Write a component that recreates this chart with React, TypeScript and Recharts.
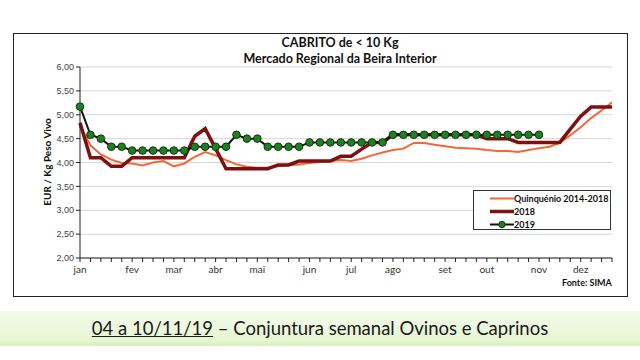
import { LineChart, Line, XAxis, YAxis, CartesianGrid } from "recharts"

const weeks = Array.from({ length: 52 }, (_, i) => String(i + 1))

const monthLabels: Record<number, string> = {
  0: "jan", 5: "fev", 9: "mar", 13: "abr", 17: "mai", 22: "jun",
  26: "jul", 30: "ago", 35: "set", 39: "out", 44: "nov", 48: "dez",
}

const quinquenio = [
  4.76, 4.36, 4.17, 4.06, 3.99, 3.98, 3.94, 4.0, 4.03, 3.92, 3.98, 4.12, 4.22,
  4.15, 4.05, 3.96, 3.91, 3.89, 3.89, 3.92, 3.94, 3.96, 3.99, 4.01, 4.03, 4.05,
  4.03, 4.08, 4.15, 4.21, 4.26, 4.29, 4.41, 4.41, 4.37, 4.34, 4.31, 4.3, 4.29,
  4.26, 4.24, 4.24, 4.22, 4.26, 4.3, 4.33, 4.41, 4.57, 4.74, 4.93, 5.09, 5.26,
]

const y2018 = [
  4.83, 4.1, 4.1, 3.92, 3.92, 4.1, 4.1, 4.1, 4.1, 4.1, 4.1, 4.55, 4.71,
  4.29, 3.87, 3.87, 3.87, 3.87, 3.87, 3.95, 3.95, 4.03, 4.03, 4.03, 4.03, 4.13,
  4.13, 4.28, 4.42, 4.42, 4.58, 4.58, 4.58, 4.58, 4.58, 4.58, 4.58, 4.58, 4.58,
  4.5, 4.5, 4.5, 4.42, 4.42, 4.42, 4.42, 4.42, 4.7, 4.97, 5.16, 5.16, 5.16,
]

const y2019 = [
  5.17, 4.58, 4.5, 4.33, 4.33, 4.25, 4.25, 4.25, 4.25, 4.25, 4.25, 4.33, 4.33,
  4.33, 4.33, 4.58, 4.5, 4.5, 4.33, 4.33, 4.33, 4.33, 4.42, 4.42, 4.42, 4.42,
  4.42, 4.42, 4.42, 4.42, 4.58, 4.58, 4.58, 4.58, 4.58, 4.58, 4.58, 4.58, 4.58,
  4.58, 4.58, 4.58, 4.58, 4.58, 4.58,
]

const yTicks = [2, 2.5, 3, 3.5, 4, 4.5, 5, 5.5, 6]

const ORANGE = "#f2673a"
const DARKRED = "#7d1010"
const GREEN = "#1f7f22"

export default function App() {
  const data = weeks.map((w, i) => ({
    week: w,
    quinquenio: quinquenio[i],
    y2018: y2018[i],
    y2019: i < y2019.length ? y2019[i] : null,
  }))

  return (
    <div style={{ position: "absolute", left: 0, top: 0, width: 640, height: 360, background: "#fff", overflow: "hidden" }}>
      {/* chart frame */}
      <div style={{ position: "absolute", left: 13, top: 33, width: 615, height: 264, border: "1px solid #222", boxSizing: "border-box" }} />

      <div style={{ position: "absolute", left: 140, width: 400, top: 35, textAlign: "center", fontFamily: "Lato", fontWeight: 700, fontSize: 12.5, lineHeight: "16px", color: "#111" }}>
        CABRITO de &lt; 10 Kg
        <br />
        Mercado Regional da Beira Interior
      </div>

      <div style={{ position: "absolute", left: -3, top: 156, width: 100, textAlign: "center", transform: "rotate(-90deg)", fontFamily: "Lato", fontWeight: 700, fontSize: 10, color: "#111" }}>
        EUR / Kg Peso Vivo
      </div>

      <div style={{ position: "absolute", left: 0, top: 0 }}>
        <LineChart width={640} height={360} data={data} margin={{ top: 67, right: 28, bottom: 72, left: 30 }}>
          <CartesianGrid vertical={false} stroke="#d6d6d6" />
          <XAxis
            dataKey="week"
            interval={0}
            tickFormatter={(_v, i) => monthLabels[i] ?? ""}
            tick={{ fontSize: 10, fontFamily: "Lato", fill: "#333" }}
            tickLine={{ stroke: "#222" }}
            axisLine={{ stroke: "#222" }}
            tickSize={4}
            tickMargin={4}
            height={30}
          />
          <YAxis
            domain={[2, 6]}
            ticks={yTicks}
            tickFormatter={(v) => v.toFixed(2).replace(".", ",")}
            tick={{ fontSize: 9, fontFamily: "Liberation Sans", fill: "#444" }}
            tickLine={{ stroke: "#222" }}
            axisLine={{ stroke: "#222" }}
            tickSize={4}
            tickMargin={2}
            width={50}
          />
          <Line dataKey="quinquenio" stroke={ORANGE} strokeWidth={2} dot={false} isAnimationActive={false} />
          <Line dataKey="y2018" stroke={DARKRED} strokeWidth={3.5} dot={false} isAnimationActive={false} />
          <Line
            dataKey="y2019"
            stroke="#111"
            strokeWidth={2}
            dot={{ r: 3.8, fill: GREEN, stroke: "#0c3a0c", strokeWidth: 1 }}
            isAnimationActive={false}
          />
        </LineChart>
      </div>

      {/* legend */}
      <div style={{ position: "absolute", left: 473, top: 190, width: 138, height: 40, border: "1px solid #333", boxSizing: "border-box", background: "#fff", fontFamily: "Lato", fontWeight: 700, fontSize: 9, color: "#111" }}>
        {[
          { label: "Quinquénio 2014-2018", color: ORANGE, w: 2, dot: false },
          { label: "2018", color: DARKRED, w: 3.5, dot: false },
          { label: "2019", color: "#111", w: 2, dot: true },
        ].map((e, i) => (
          <div key={e.label} style={{ position: "absolute", left: 16, top: 1 + i * 13, height: 13, display: "flex", alignItems: "center", whiteSpace: "nowrap" }}>
            <svg width={24} height={13} style={{ flexShrink: 0 }}>
              <line x1={0} x2={24} y1={6.5} y2={6.5} stroke={e.color} strokeWidth={e.w} />
              {e.dot && <circle cx={12} cy={6.5} r={3.2} fill={GREEN} stroke="#0c3a0c" strokeWidth={1} />}
            </svg>
            <span>{e.label}</span>
          </div>
        ))}
      </div>

      <div style={{ position: "absolute", left: 562, top: 277, fontFamily: "Lato", fontWeight: 700, fontSize: 9, color: "#111" }}>
        Fonte: SIMA
      </div>

      {/* footer banner */}
      <div style={{ position: "absolute", left: 0, top: 311, width: 640, height: 35, background: "linear-gradient(to bottom, #f4fbec, #e6f6d2 85%, #d7f0b8)", textAlign: "center", fontFamily: "Lato", fontSize: 18.5, lineHeight: "35px", color: "#1a1a1a" }}>
        <span style={{ textDecoration: "underline", textDecorationThickness: 1 }}>04 a 10/11/19</span> – Conjuntura semanal Ovinos e Caprinos
      </div>
    </div>
  )
}
